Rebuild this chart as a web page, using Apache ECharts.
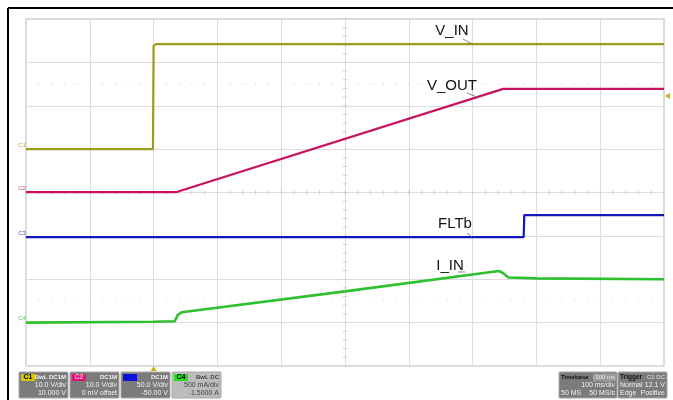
<!DOCTYPE html>
<html><head><meta charset="utf-8">
<script src="https://cdn.jsdelivr.net/npm/echarts@6/dist/echarts.min.js"></script>
<style>html,body{margin:0;padding:0;background:#fff}#c{width:673px;height:400px}</style>
</head><body><div id="c"></div>
<script>
// time in ms relative to trigger (100 ms/div), values in screen divisions from bottom
const vinTime  = [-200, -1, 0, 4, 800];
const vinValue = [5.0, 5.0, 7.38, 7.42, 7.42];
const voutTime  = [-200, 36, 548, 800];
const voutValue = [4.01, 4.01, 6.39, 6.39];
const fltTime  = [-200, 580, 581, 800];
const fltValue = [2.97, 2.97, 3.48, 3.48];
const iinTime  = [-200, 0, 33, 38, 44, 300, 541, 547, 556, 600, 800];
const iinValue = [1.0, 1.02, 1.03, 1.18, 1.24, 1.72, 2.19, 2.15, 2.04, 2.02, 2.0];
const labels = ['V_IN', 'V_OUT', 'FLTb', 'I_IN'];
const chanInfo = [
  {tag:'C1', head:'BwL DC1M', l2:'10.0 V/div', l3:'10.000 V'},
  {tag:'C2', head:'DC1M', l2:'10.0 V/div', l3:'0 mV offset'},
  {tag:'C3', head:'DC1M', l2:'50.0 V/div', l3:'-50.00 V'},
  {tag:'C4', head:'BwL DC', l2:'500 mA/div', l3:'-1.5000 A'}
];
const colors = ['#9b9b1c', '#c8125f', '#1414c0', '#2ec02e'];
const zip = (a, b) => a.map((v, i) => [v, b[i]]);

const chart = echarts.init(document.getElementById('c'));
const FONT = 'Liberation Sans, Arial, sans-serif';
function ser(name, t, v, c, w) {
  return {name, type:'line', data: zip(t, v), showSymbol:false, animation:false,
    lineStyle:{color:c, width:w}, itemStyle:{color:c}, z:5};
}
chart.setOption({
  backgroundColor:'#fff',
  animation:false,
  grid:{left:26, top:19, width:638, height:347, show:true, borderColor:'#cfcfcf', borderWidth:1.5},
  xAxis:{type:'value', min:-200, max:800, interval:100,
    axisLine:{show:false}, axisTick:{show:false}, axisLabel:{show:false},
    splitLine:{show:true, lineStyle:{color:'#dcdcdc', width:1}}},
  yAxis:{type:'value', min:0, max:8, interval:1,
    axisLine:{show:false}, axisTick:{show:false}, axisLabel:{show:false},
    splitLine:{show:true, lineStyle:{color:'#dcdcdc', width:1}}},
  series:[
    ser('V_IN', vinTime, vinValue, colors[0], 2.2),
    ser('V_OUT', voutTime, voutValue, colors[1], 2.2),
    ser('FLTb', fltTime, fltValue, colors[2], 2.2),
    ser('I_IN', iinTime, iinValue, colors[3], 2.6)
  ]
});

const g = [];
const px = (t, v) => chart.convertToPixel({gridIndex:0}, [t, v]);
// center line minor ticks
for (let t = -200; t <= 800; t += 20) {
  const p = px(t, 4);
  g.push({type:'line', shape:{x1:p[0], y1:p[1]-2, x2:p[0], y2:p[1]+2}, style:{stroke:'#cccccc', lineWidth:1}, silent:true});
  [1.5, 6.5].forEach(r => {
    const q = px(t, r);
    g.push({type:'line', shape:{x1:q[0], y1:q[1]-1, x2:q[0], y2:q[1]+1}, style:{stroke:'#e4e4e4', lineWidth:1}, silent:true});
  });
}
for (let v = 0; v <= 8.001; v += 0.2) {
  const p = px(300, v);
  g.push({type:'line', shape:{x1:p[0]-2, y1:p[1], x2:p[0]+2, y2:p[1]}, style:{stroke:'#cccccc', lineWidth:1}, silent:true});
}
// channel ground markers
const grounds = [vinValue[0], voutValue[0], fltValue[0], iinValue[0]];
grounds.forEach((v, i) => {
  const p = px(-200, v);
  g.push({type:'text', x:p[0]-4, y:p[1]-1, style:{text:'C'+(i+1), fill:colors[i], font:'6px '+FONT, textAlign:'center', textVerticalAlign:'bottom', opacity:0.8}});
});
// trace annotations
const ann = [
  {x:452, y:31, lx1:463, ly1:39, lx2:472, ly2:44},
  {x:452, y:86, lx1:467, ly1:93, lx2:477, ly2:97},
  {x:455, y:224, lx1:467, ly1:233, lx2:472, ly2:237},
  {x:450, y:266, lx1:458, ly1:272, lx2:465, ly2:272}
];
ann.forEach((a, i) => {
  g.push({type:'text', x:a.x, y:a.y, z:10, style:{text:labels[i], fill:'#111', font:'15px '+FONT, textAlign:'center', textVerticalAlign:'middle'}});
  g.push({type:'line', z:10, shape:{x1:a.lx1, y1:a.ly1, x2:a.lx2, y2:a.ly2}, style:{stroke:'#666', lineWidth:0.8}});
});
// trigger markers
const tp = px(0, 0);
g.push({type:'polygon', shape:{points:[[tp[0]-3, tp[1]+5],[tp[0]+3, tp[1]+5],[tp[0], tp[1]]]}, style:{fill:'#c8b400'}});
g.push({type:'polygon', shape:{points:[[665, 96],[670, 93],[670, 99]]}, style:{fill:'#c8b400'}});
// outer frame
g.push({type:'line', shape:{x1:8, y1:8, x2:673, y2:8}, style:{stroke:'#000', lineWidth:2}});
g.push({type:'line', shape:{x1:8, y1:8, x2:8, y2:400}, style:{stroke:'#000', lineWidth:2}});
// channel info boxes
const tagColors = ['#d8c800', '#e0157a', '#1010dd', '#22dd22'];
const tagText = ['#000', '#ffb0d0', '#1010dd', '#000'];
chanInfo.forEach((c, i) => {
  const x = 19 + i * 51, y = 372, w = 49, h = 26;
  const light = i === 3;
  g.push({type:'rect', shape:{x, y, width:w, height:h, r:1}, style:{fill: light ? '#bcbcbc' : '#7b7b7b', stroke:'#a8a8a8', lineWidth:1}});
  g.push({type:'rect', shape:{x:x+2, y:y+2, width:14, height:7}, style:{fill:tagColors[i]}});
  g.push({type:'text', x:x+9, y:y+5.5, style:{text:c.tag, fill:tagText[i], font:'bold 7px '+FONT, textAlign:'center', textVerticalAlign:'middle'}});
  const tc = light ? '#444' : '#f2f2f2';
  g.push({type:'text', x:x+w-2, y:y+5.5, style:{text:c.head, fill:tc, font:'bold 6px '+FONT, textAlign:'right', textVerticalAlign:'middle'}});
  g.push({type:'text', x:x+w-2, y:y+13.5, style:{text:c.l2, fill:tc, font:'7px '+FONT, textAlign:'right', textVerticalAlign:'middle'}});
  g.push({type:'text', x:x+w-2, y:y+21, style:{text:c.l3, fill:tc, font:'7px '+FONT, textAlign:'right', textVerticalAlign:'middle'}});
});
// timebase / trigger boxes
(function(){
  const x = 559, y = 372, w = 58, h = 26;
  g.push({type:'rect', shape:{x, y, width:w, height:h, r:1}, style:{fill:'#7b7b7b', stroke:'#a8a8a8', lineWidth:1}});
  g.push({type:'rect', shape:{x:x+34, y:y+1.5, width:23, height:8}, style:{fill:'#9a9a9a'}});
  g.push({type:'text', x:x+2, y:y+5.5, style:{text:'Timebase', fill:'#111', font:'bold 6px '+FONT, textAlign:'left', textVerticalAlign:'middle'}});
  g.push({type:'text', x:x+w-2, y:y+5.5, style:{text:'-300 ms', fill:'#e8e8e8', font:'6px '+FONT, textAlign:'right', textVerticalAlign:'middle'}});
  g.push({type:'text', x:x+w-2, y:y+13.5, style:{text:'100 ms/div', fill:'#f2f2f2', font:'7px '+FONT, textAlign:'right', textVerticalAlign:'middle'}});
  g.push({type:'text', x:x+2, y:y+21, style:{text:'50 MS', fill:'#f2f2f2', font:'7px '+FONT, textAlign:'left', textVerticalAlign:'middle'}});
  g.push({type:'text', x:x+w-2, y:y+21, style:{text:'50 MS/s', fill:'#f2f2f2', font:'7px '+FONT, textAlign:'right', textVerticalAlign:'middle'}});
  const x2 = 618, w2 = 49;
  g.push({type:'rect', shape:{x:x2, y, width:w2, height:h, r:1}, style:{fill:'#7b7b7b', stroke:'#a8a8a8', lineWidth:1}});
  g.push({type:'text', x:x2+2, y:y+5.5, style:{text:'Trigger', fill:'#111', font:'bold 6.5px '+FONT, textAlign:'left', textVerticalAlign:'middle'}});
  g.push({type:'text', x:x2+w2-2, y:y+5.5, style:{text:'C1 DC', fill:'#e8e8e8', font:'6px '+FONT, textAlign:'right', textVerticalAlign:'middle'}});
  g.push({type:'text', x:x2+2, y:y+13.5, style:{text:'Normal', fill:'#f2f2f2', font:'7px '+FONT, textAlign:'left', textVerticalAlign:'middle'}});
  g.push({type:'text', x:x2+w2-2, y:y+13.5, style:{text:'12.1 V', fill:'#f2f2f2', font:'7px '+FONT, textAlign:'right', textVerticalAlign:'middle'}});
  g.push({type:'text', x:x2+2, y:y+21, style:{text:'Edge', fill:'#f2f2f2', font:'7px '+FONT, textAlign:'left', textVerticalAlign:'middle'}});
  g.push({type:'text', x:x2+w2-2, y:y+21, style:{text:'Positive', fill:'#f2f2f2', font:'7px '+FONT, textAlign:'right', textVerticalAlign:'middle'}});
})();
chart.setOption({graphic:{elements:g}});
</script>
</body></html>
